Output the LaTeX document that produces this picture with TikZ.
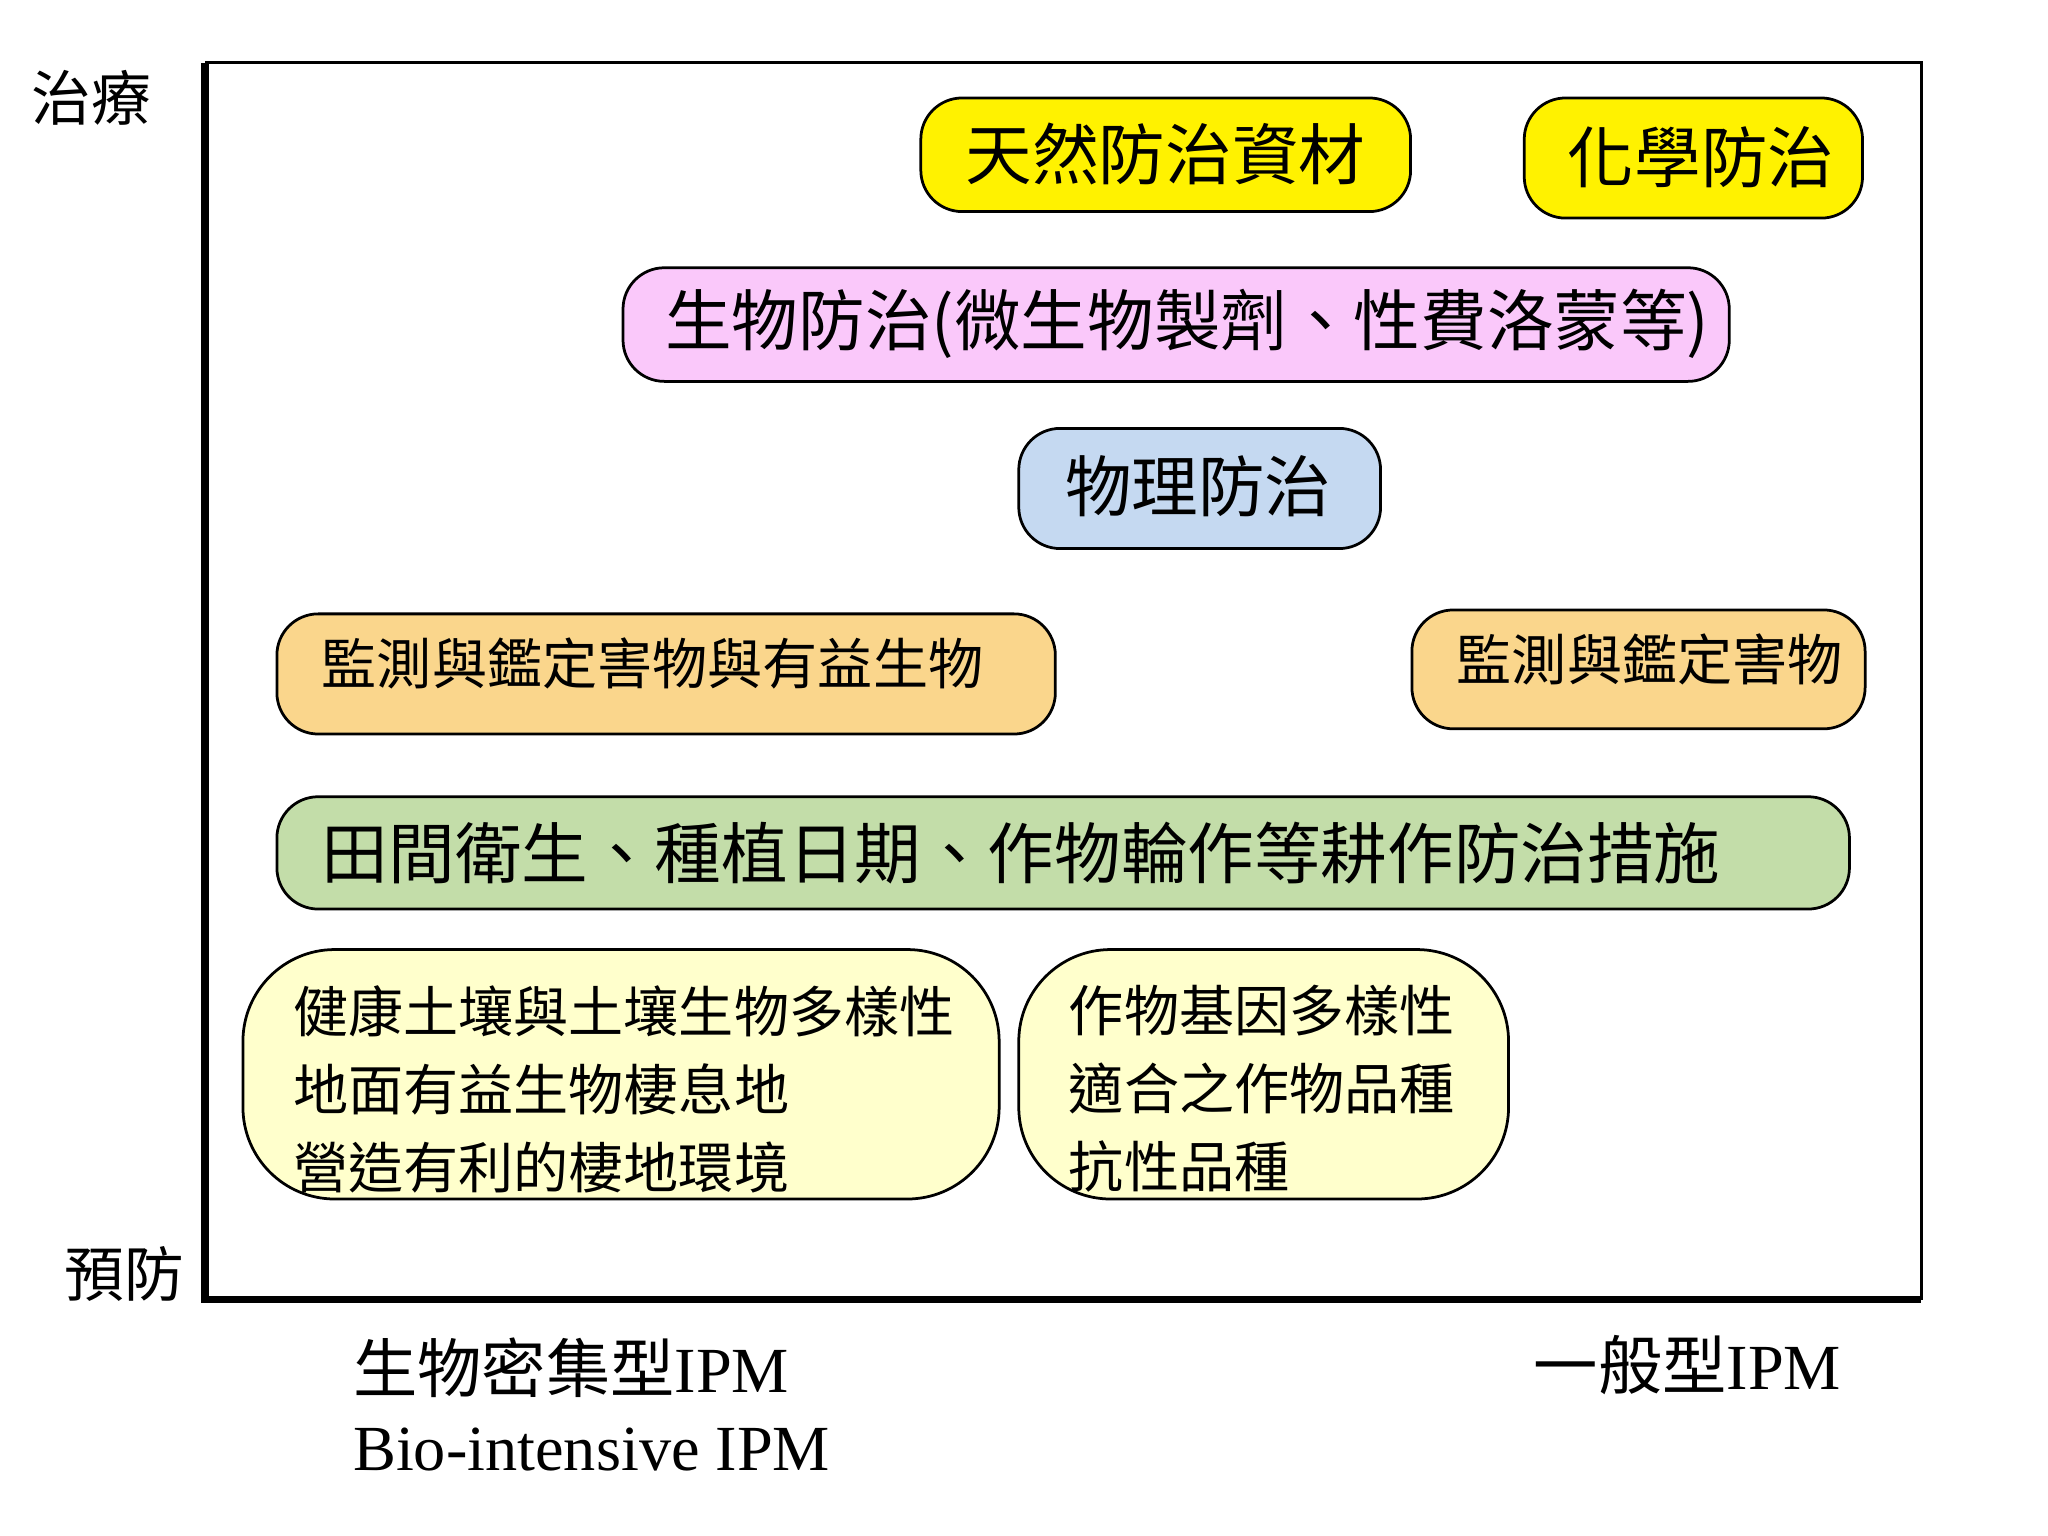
\documentclass[tikz,border=0pt]{standalone}
\usepackage{fontspec}
\setmainfont{Liberation Serif}
\newfontfamily\cjk{Noto Sans CJK TC}
\begin{document}
\begin{tikzpicture}[x=0.01cm,y=-0.01cm,
 box/.style={draw=black,line width=0.6pt,rounded corners=9pt,anchor=north west,inner sep=0pt},
 big/.style={font=\cjk\fontsize{14.5}{17}\selectfont},
 mid/.style={font=\cjk\fontsize{12}{15}\selectfont},
 ax/.style={font=\cjk\fontsize{13}{15}\selectfont}]
\useasboundingbox (0,0) rectangle (1568,1176);
\fill[white] (0,0) rectangle (1568,1176);
\draw[line width=0.6pt] (157,48) -- (1471,48) -- (1471,995);
\draw[line width=1.6pt] (157,48) -- (157,995) -- (1471,995);
\node[ax] (t) at (70,75) {治療};
\node[ax] (p) at (95,975) {預防};
\path[box,fill=yellow] (705,75) rectangle (1080,162); \node[big,anchor=west] (a) at (727,118) {天然防治資材};
\path[box,fill=yellow] (1167,75) rectangle (1426,167); \node[big,anchor=west] (b) at (1188,120) {化學防治};
\path[box,fill={rgb,255:red,250;green,200;blue,250}] (477,205) rectangle (1324,292); \node[big,anchor=west] (c) at (497,248) {生物防治(微生物製劑、性費洛蒙等)};
\path[box,fill={rgb,255:red,197;green,217;blue,241}] (780,328) rectangle (1057,420); \node[big,anchor=west] (d) at (803,372) {物理防治};
\path[box,fill={rgb,255:red,250;green,214;blue,140}] (212,470) rectangle (808,562); \node[mid,anchor=west] (e) at (234,508) {監測與鑑定害物與有益生物};
\path[box,fill={rgb,255:red,250;green,214;blue,140}] (1081,467) rectangle (1428,558); \node[mid,anchor=west] (f) at (1103,505) {監測與鑑定害物};
\path[box,fill={rgb,255:red,195;green,221;blue,169}] (212,610) rectangle (1416,696); \node[big,anchor=west] (g) at (234,653) {田間衛生、種植日期、作物輪作等耕作防治措施};
\path[box,rounded corners=20pt,fill={rgb,255:red,255;green,255;blue,204}] (186,727) rectangle (765,918);
\node[mid,anchor=north west,align=left] (h) at (212,742) {健康土壤與土壤生物多樣性\\[2pt]地面有益生物棲息地\\[2pt]營造有利的棲地環境};
\path[box,rounded corners=20pt,fill={rgb,255:red,255;green,255;blue,204}] (780,727) rectangle (1155,918);
\node[mid,anchor=north west,align=left] (i) at (806,742) {作物基因多樣性\\[2pt]適合之作物品種\\[2pt]抗性品種};
\node[anchor=west,font=\fontsize{14}{16}\selectfont] (j) at (258,1047) {{\cjk 生物密集型}IPM};
\node[anchor=west,font=\fontsize{14}{16}\selectfont] (k) at (258,1110) {Bio-intensive IPM};
\node[anchor=east,font=\fontsize{14}{16}\selectfont] (l) at (1422,1045) {{\cjk 一般型}IPM};
\end{tikzpicture}
\end{document}
